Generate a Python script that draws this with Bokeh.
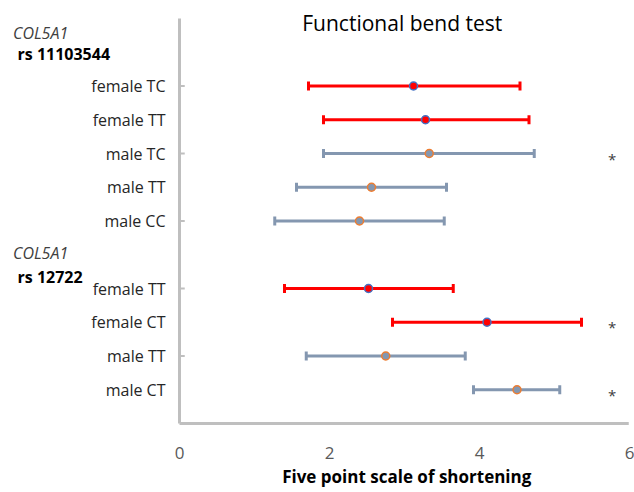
from bokeh.plotting import figure
from bokeh.models import Range1d, ColumnDataSource
from bokeh.embed import file_html
from bokeh.resources import INLINE

# ---- data ----
labels = ["female TC", "female TT", "male TC", "male TT", "male CC",
          "female TT", "female CT", "male TT", "male CT"]
row_pos = [10, 9, 8, 7, 6, 4, 3, 2, 1]
sex = ["f", "f", "m", "m", "m", "f", "f", "m", "m"]
means = [3.12, 3.28, 3.33, 2.56, 2.40, 2.52, 4.10, 2.75, 4.50]
lower = [1.72, 1.92, 1.92, 1.56, 1.27, 1.40, 2.84, 1.69, 3.92]
upper = [4.54, 4.66, 4.73, 3.56, 3.53, 3.65, 5.36, 3.81, 5.07]
significant = [False, False, True, False, False, False, True, False, True]
gene_names = ["COL5A1", "COL5A1"]
snp_names = ["rs 11103544", "rs 12722"]
x_ticks = [0, 2, 4, 6]
y_minor_ticks = [2, 4, 6, 8, 10]
title_text = "Functional bend test"
x_label = "Five point scale of shortening"

FEMALE_LINE = "#FF0000"
MALE_LINE = "#8497B0"
FEMALE_MARK_LINE = "#4472C4"
MALE_MARK_LINE = "#ED7D31"
AXIS_COL = "#BFBFBF"
FONT = "Open Sans"

W, H = 634, 492
# frame fills canvas; plotting area (0..6, 0..12) placed inside it
X0_PX, Y0_PX, PX_PER_X, PX_PER_Y = 179, 423, 75.0, 33.75

line_col = [FEMALE_LINE if s == "f" else MALE_LINE for s in sex]
mfill = line_col
mline = [FEMALE_MARK_LINE if s == "f" else MALE_MARK_LINE for s in sex]

src = ColumnDataSource(dict(y=row_pos, m=means, lo=lower, hi=upper,
                            lc=line_col, mf=mfill, ml=mline, lab=labels))

p = figure(width=W, height=H, output_backend="svg", toolbar_location=None,
           x_range=Range1d(-X0_PX / PX_PER_X, (W - X0_PX) / PX_PER_X),
           y_range=Range1d(-(H - Y0_PX) / PX_PER_Y, Y0_PX / PX_PER_Y),
           min_border=0)
p.axis.visible = False
p.outline_line_color = None
p.grid.visible = False
p.background_fill_color = "white"
p.border_fill_color = "white"

# axis lines
p.segment(x0=[0, 0], y0=[0, 0], x1=[0, 5.99], y1=[12, 0],
          line_color=AXIS_COL, line_width=3)
# small ticks on the category axis
p.segment(x0=[0] * len(y_minor_ticks), x1=[0.07] * len(y_minor_ticks),
          y0=y_minor_ticks, y1=y_minor_ticks, line_color=AXIS_COL, line_width=2)

# category labels
p.text(x=0, y="y", text="lab", source=src, x_offset=-14, text_align="right",
       text_baseline="middle", text_font={"value": FONT}, text_font_size="16px",
       text_color="#262626")

# x tick labels
p.text(x=x_ticks, y=[0] * len(x_ticks), text=[str(t) for t in x_ticks],
       y_offset=29, text_align="center", text_baseline="middle",
       text_font={"value": FONT}, text_font_size="17px", text_color="#595959")
# x axis label
p.text(x=[3.03], y=[0], text=[x_label], y_offset=53, text_align="center",
       text_baseline="middle", text_font={"value": FONT}, text_font_style="bold",
       text_font_size="17px", text_color="#000000")
# title
p.text(x=[2.97], y=[12], text=[title_text], y_offset=4, text_align="center",
       text_baseline="middle", text_font={"value": FONT}, text_font_size="21px",
       text_color="#000000")

# group labels
p.text(x=[-2.22, -2.22], y=[12, 5], text=gene_names, y_offset=[14, -2],
       text_align="left", text_baseline="middle", text_font={"value": FONT},
       text_font_style="italic", text_font_size="16px", text_color="#404040")
p.text(x=[-2.16, -2.16], y=[11, 4], text=snp_names, y_offset=[2, -12],
       text_align="left", text_baseline="middle", text_font={"value": FONT},
       text_font_style="bold", text_font_size="16px", text_color="#000000")

# error bars
p.segment(x0="lo", x1="hi", y0="y", y1="y", source=src, line_color="lc", line_width=3)
p.rect(x="lo", y="y", width=3, height=9, width_units="screen", height_units="screen",
       source=src, fill_color="lc", line_color=None)
p.rect(x="hi", y="y", width=3, height=9, width_units="screen", height_units="screen",
       source=src, fill_color="lc", line_color=None)
p.scatter(x="m", y="y", source=src, size=8, fill_color="mf", line_color="ml",
          line_width=1.5)

# asterisks
sig_y = [r for r, s in zip(row_pos, significant) if s]
p.text(x=[5.77] * len(sig_y), y=sig_y, text=["*"] * len(sig_y), y_offset=5,
       text_align="center", text_baseline="middle", text_color="#404040",
       text_font={"value": FONT}, text_font_size="15px")

open("out.html", "w").write(file_html(p, INLINE))
